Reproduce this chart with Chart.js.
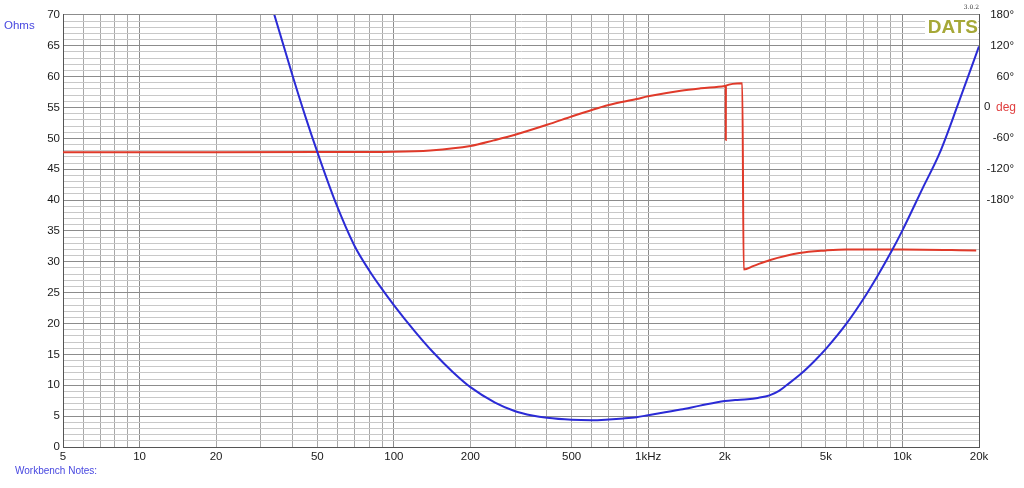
<!DOCTYPE html>
<html>
<head>
<meta charset="utf-8">
<script src="https://cdn.jsdelivr.net/npm/chart.js@4"></script>
<style>
html,body{margin:0;padding:0;background:#fff;}
#wrap{width:1024px;height:488px;}
</style>
</head>
<body>
<div id="wrap"><canvas id="c" width="1024" height="488"></canvas></div>
<script>
// ---- data ----
const impFreq = [32, 33.9, 40, 45, 50, 58.9, 70, 80, 88, 100, 120, 143, 170, 200, 250, 300, 350, 400, 500, 600, 700, 800, 900, 1000, 1343, 1600, 2000, 2200, 2460, 2700, 3000, 3270, 3500, 4000, 4500, 5000, 6000, 7000, 8000, 9000, 10000, 12000, 14000, 16600, 20000];
const impOhms = [73.6, 70, 60.1, 53.4, 47.8, 39.7, 32.6, 28.6, 26.1, 23.0, 18.9, 15.3, 12.2, 9.7, 7.2, 5.8, 5.1, 4.72, 4.4, 4.33, 4.45, 4.62, 4.83, 5.15, 6.06, 6.7, 7.45, 7.6, 7.72, 7.95, 8.37, 9.1, 10.0, 11.9, 13.9, 15.9, 19.9, 23.9, 27.8, 31.5, 35.1, 41.9, 47.6, 55.7, 64.9];

const phaseFreq = [5, 20, 50, 100, 139, 200, 247, 300, 400, 500, 600, 700, 900, 1000, 1343, 1610, 2000, 2018, 2020, 2022, 2345, 2375, 2600, 3000, 3933, 5000, 6000, 8000, 10000, 19500];
const phaseDeg = [-87.5, -87.5, -87.3, -86.5, -84, -75.5, -64.5, -53.5, -34.2, -18.1, -5.2, 4.5, 16.1, 21.3, 32.3, 37, 41.5, 42, -64, 42.2, 47, -316, -309, -298, -284, -279, -277, -277, -277, -279];

const freqTickValues = [5, 10, 20, 50, 100, 200, 500, 1000, 2000, 5000, 10000, 20000];
const freqTickLabels = ['5', '10', '20', '50', '100', '200', '500', '1kHz', '2k', '5k', '10k', '20k'];
const phaseTickValues = [-180, -120, -60, 0, 60, 120, 180];
const phaseTickLabels = ['-180°', '-120°', '-60°', '', '60°', '120°', '180°'];

// grid positions for the log frequency axis (1..9 per decade)
const freqGrid = [];
for (let d = 1; d <= 10000; d *= 10) {
  for (let m = 1; m <= 9; m++) {
    const v = m * d;
    if (v >= 5 && v <= 20000) freqGrid.push(v);
  }
}
freqGrid.push(20000);
const uniqGrid = Array.from(new Set(freqGrid)).sort((a, b) => a - b);

const FONT = 'Liberation Sans, Arial, Helvetica, sans-serif';

const textPlugin = {
  id: 'texts',
  afterDraw(chart) {
    const ctx = chart.ctx;
    const area = chart.chartArea;
    ctx.save();
    ctx.font = '11.5px ' + FONT;
    ctx.fillStyle = '#4848e0';
    ctx.textAlign = 'left';
    ctx.textBaseline = 'middle';
    ctx.fillText('Ohms', 4, 26);
    ctx.font = '10px ' + FONT;
    ctx.fillText('Workbench Notes:', 15, 471);
    ctx.fillStyle = '#ffffff';
    ctx.fillRect(area.right - 54, area.top + 1, 53, 21);
    ctx.font = 'bold 19px ' + FONT;
    ctx.fillStyle = '#a6a838';
    ctx.textAlign = 'right';
    ctx.textBaseline = 'alphabetic';
    ctx.fillText('DATS', area.right - 1, area.top + 18.5);
    ctx.font = '6px "DejaVu Serif", serif';
    ctx.fillStyle = '#333';
    ctx.fillText('3.0.2', area.right, 9);
    const y0 = chart.scales.y2.getPixelForValue(0);
    ctx.textAlign = 'left';
    ctx.textBaseline = 'middle';
    ctx.font = '11.5px ' + FONT;
    ctx.fillStyle = '#1a1a1a';
    ctx.fillText('0', area.right + 5, y0);
    ctx.font = '12px ' + FONT;
    ctx.fillStyle = '#e04040';
    ctx.fillText('deg', area.right + 17, y0);
    ctx.restore();
  }
};

new Chart(document.getElementById('c'), {
  type: 'line',
  data: {
    datasets: [
      {
        label: 'Impedance',
        data: impFreq.map((f, i) => ({ x: f, y: impOhms[i] })),
        borderColor: '#2b2bd6',
        borderWidth: 2,
        pointRadius: 0,
        cubicInterpolationMode: 'monotone',
        yAxisID: 'y'
      },
      {
        label: 'Phase',
        data: phaseFreq.map((f, i) => ({ x: f, y: phaseDeg[i] })),
        borderColor: '#e03a2a',
        borderWidth: 2,
        pointRadius: 0,
        cubicInterpolationMode: 'monotone',
        yAxisID: 'y2'
      }
    ]
  },
  options: {
    responsive: false,
    animation: false,
    devicePixelRatio: 1,
    layout: { padding: { top: 12, left: 0, right: 10, bottom: 0 } },
    plugins: { legend: { display: false }, tooltip: { enabled: false } },
    scales: {
      x: {
        type: 'logarithmic',
        position: 'bottom',
        min: 5,
        max: 20000,
        afterBuildTicks(s) { s.ticks = uniqGrid.map(v => ({ value: v })); },
        afterFit(s) { s.height = 41; },
        ticks: {
          autoSkip: false,
          maxRotation: 0,
          padding: 3,
          color: '#1a1a1a',
          font: { family: FONT, size: 11.5 },
          callback(value) {
            const idx = freqTickValues.indexOf(value);
            return idx >= 0 ? freqTickLabels[idx] : '';
          }
        },
        grid: {
          drawTicks: false,
          lineWidth: 1,
          color(ctx) {
            const v = ctx.tick ? ctx.tick.value : 0;
            const l = Math.log10(v);
            return Math.abs(l - Math.round(l)) < 1e-6 ? '#8c8c8c' : '#a8a8a8';
          }
        },
        border: { display: true, color: '#555', width: 1 }
      },
      y: {
        position: 'left',
        min: 0,
        max: 70,
        afterBuildTicks(s) {
          const t = [];
          for (let v = 0; v <= 70; v++) t.push({ value: v });
          s.ticks = t;
        },
        afterFit(s) { s.width = 63; },
        ticks: {
          autoSkip: false,
          padding: 3,
          color: '#1a1a1a',
          font: { family: FONT, size: 11.5 },
          callback(value) { return value % 5 === 0 ? String(value) : ''; }
        },
        grid: {
          drawTicks: false,
          lineWidth: 1,
          color(ctx) {
            const v = ctx.tick ? ctx.tick.value : 0;
            return v % 5 === 0 ? '#8c8c8c' : '#c8c8c8';
          }
        },
        border: { display: true, color: '#555', width: 1 }
      },
      y2: {
        position: 'right',
        min: -662,
        max: 180,
        afterBuildTicks(s) { s.ticks = phaseTickValues.map(v => ({ value: v })); },
        afterFit(s) { s.width = 35; },
        ticks: {
          autoSkip: false,
          padding: 8,
          crossAlign: 'far',
          color: '#1a1a1a',
          font: { family: FONT, size: 11.5 },
          callback(value) {
            const idx = phaseTickValues.indexOf(value);
            return idx >= 0 ? phaseTickLabels[idx] : '';
          }
        },
        grid: { drawOnChartArea: false, drawTicks: false },
        border: { display: true, color: '#555', width: 1 }
      }
    }
  },
  plugins: [textPlugin]
});
</script>
</body>
</html>
